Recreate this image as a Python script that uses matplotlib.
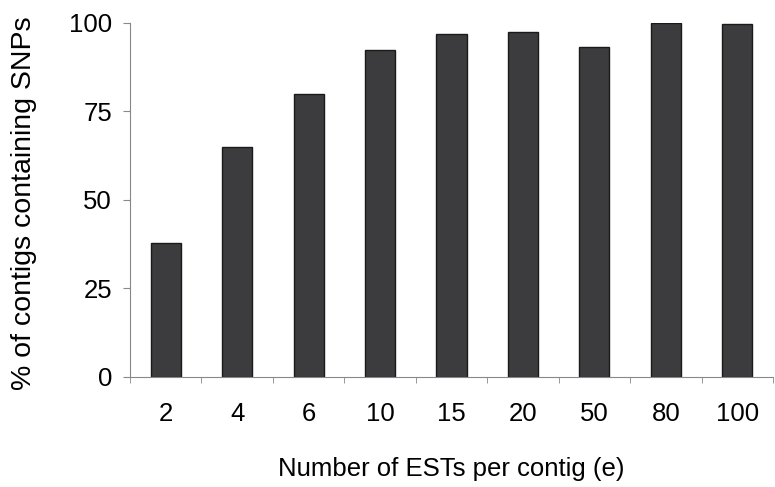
import matplotlib.pyplot as plt
import numpy as np

# ESTs per contig vs. % of contigs containing SNPs
categories = ['2', '4', '6', '10', '15', '20', '50', '80', '100']
pct_snps = [37.7, 64.9, 79.8, 92.3, 96.7, 97.3, 93.2, 99.8, 99.6]

plt.rcParams['font.family'] = ['Liberation Sans', 'DejaVu Sans']

fig = plt.figure(figsize=(7.75, 4.87), dpi=100)
ax = fig.add_axes([130 / 775, 110 / 487, 643 / 775, 354.3 / 487])

x = np.arange(len(categories))
ax.bar(x, pct_snps, width=0.42, color='#3c3c3e', edgecolor='#1a1a1a', linewidth=1.0)

ax.set_xlim(-0.5, len(categories) - 0.5)
ax.set_ylim(0, 100)
ax.set_yticks([0, 25, 50, 75, 100])
ax.set_xticks(x)
ax.set_xticklabels(categories)
ax.set_xticks(np.arange(len(categories) + 1) - 0.5, minor=True)
ax.tick_params(axis='x', which='major', length=0, pad=18, labelsize=18.5)
ax.tick_params(axis='x', which='minor', length=4.5, direction='out', color='#888888')
ax.tick_params(axis='y', length=5, color='#888888', pad=8, labelsize=18.5)

for side in ['top', 'right']:
    ax.spines[side].set_visible(False)
for side in ['left', 'bottom']:
    ax.spines[side].set_color('#888888')

ax.set_xlabel('Number of ESTs per contig (e)', fontsize=18.5, labelpad=22)
ax.set_ylabel('% of contigs containing SNPs', fontsize=20.5)
ax.yaxis.set_label_coords(-0.145, 0.49)

fig.savefig('out.png', dpi=100)
